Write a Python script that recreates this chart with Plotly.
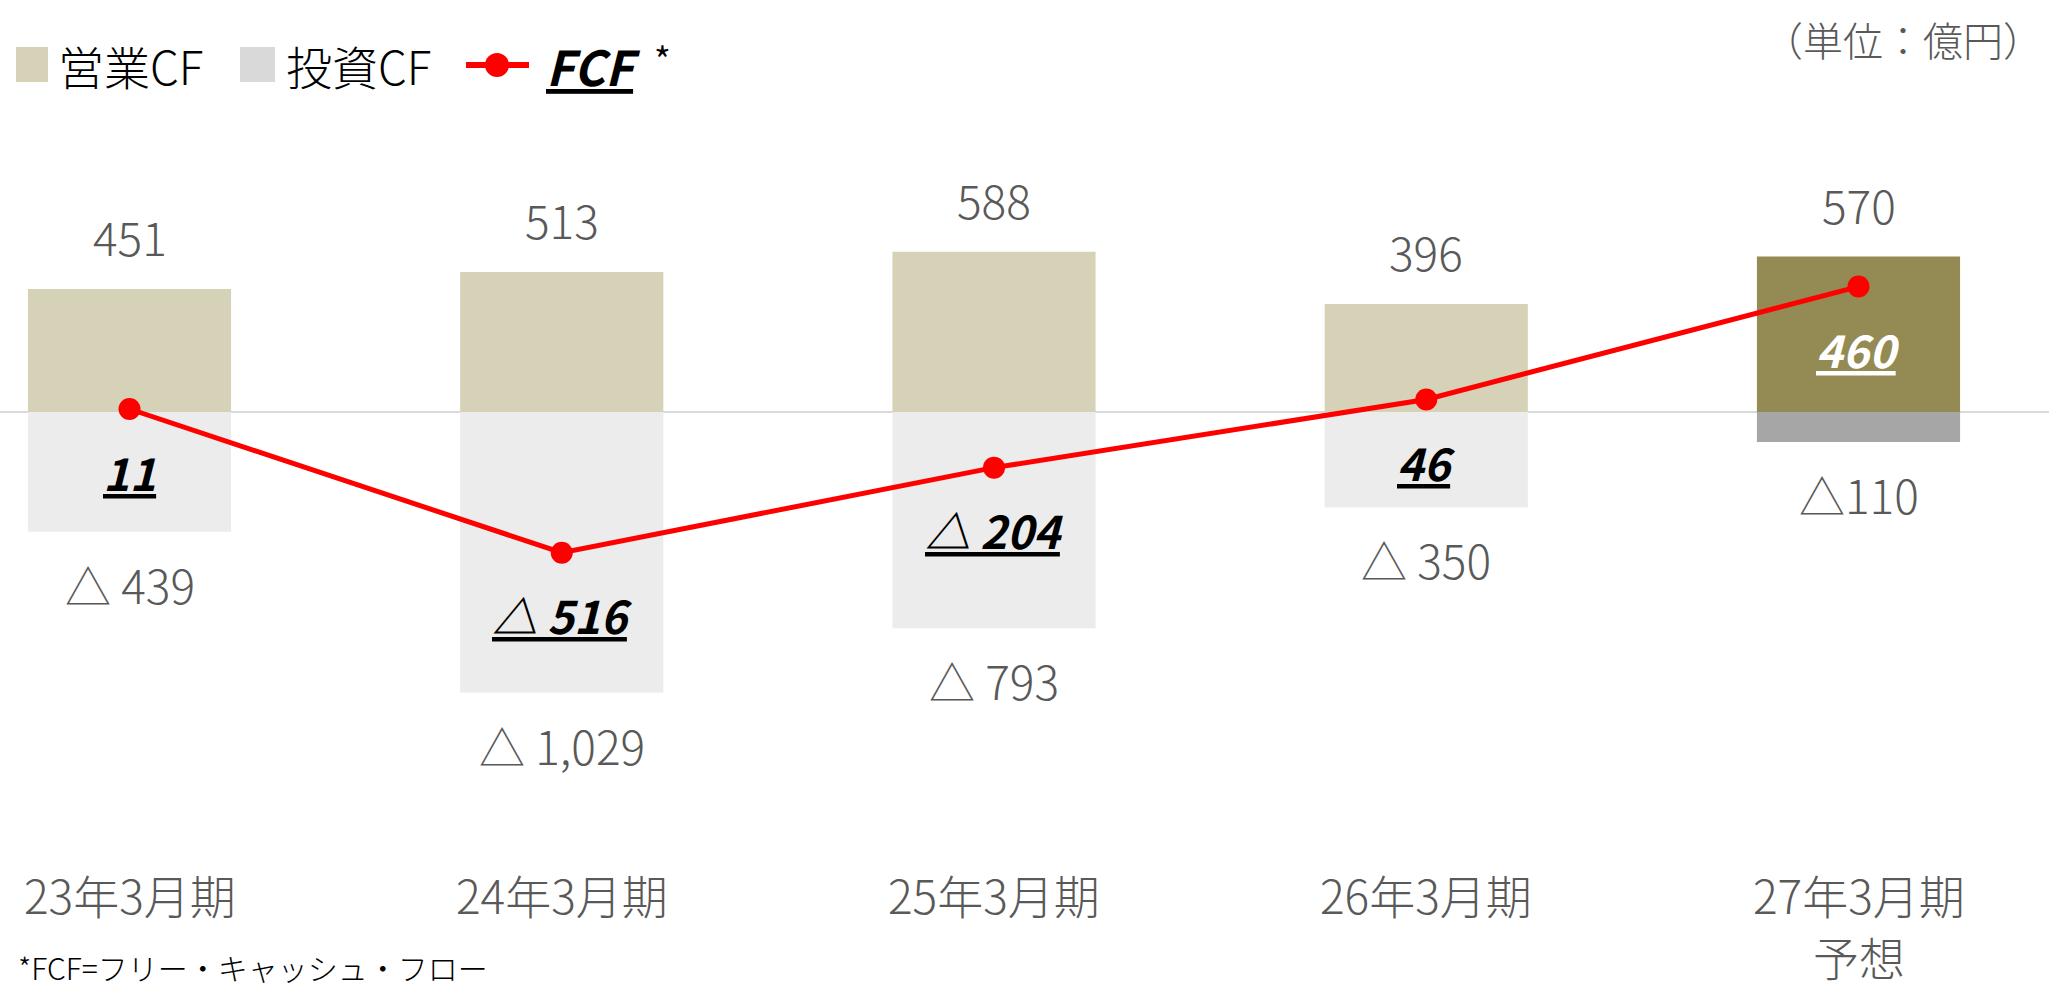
import plotly.graph_objects as go

# ---- data ----
categories = ["23年3月期", "24年3月期", "25年3月期", "26年3月期", "27年3月期<br>予想"]
operating_cf = [451, 513, 588, 396, 570]
investing_cf = [-439, -1029, -793, -350, -110]
fcf = [11, -516, -204, 46, 460]
op_labels = ["451", "513", "588", "396", "570"]
inv_labels = ["△ 439", "△ 1,029", "△ 793", "△ 350", "△110"]
fcf_labels = ["11", "△ 516", "△ 204", "46", "460"]
series_names = ["営業CF", "投資CF", "FCF"]
unit_label = "（単位：億円）"
footnote = "*FCF=フリー・キャッシュ・フロー"

# ---- styling ----
W, H = 2049, 993
FONT = "Noto Sans CJK JP"
GRAY_TXT = "#595959"
op_colors = ["#d6d2b8"] * 4 + ["#948a54"]
inv_colors = ["#ececec"] * 4 + ["#a6a6a6"]
fcf_label_colors = ["black"] * 4 + ["white"]

x_idx = list(range(len(categories)))

fig = go.Figure()
fig.add_trace(go.Bar(x=x_idx, y=operating_cf, width=0.47, marker=dict(color=op_colors, line=dict(width=0)),
                     name=series_names[0], showlegend=False))
fig.add_trace(go.Bar(x=x_idx, y=investing_cf, width=0.47, marker=dict(color=inv_colors, line=dict(width=0)),
                     name=series_names[1], showlegend=False))
fig.add_trace(go.Scatter(x=x_idx, y=fcf, mode="lines+markers", name=series_names[2],
                         line=dict(color="#ff0000", width=5), marker=dict(color="#ff0000", size=22),
                         showlegend=False))

def py(p):
    return 1 - p / H

def px(p):
    return p / W

LIGHT = dict(family=FONT, size=46, color=GRAY_TXT, weight=300)

ann = []
for i in x_idx:
    ann.append(dict(x=i, y=operating_cf[i], xref="x", yref="y", yshift=53, text=op_labels[i],
                    showarrow=False, font=LIGHT, yanchor="middle"))
    ann.append(dict(x=i, y=investing_cf[i], xref="x", yref="y", yshift=-52, text=inv_labels[i],
                    showarrow=False, font=LIGHT, yanchor="middle"))
    ann.append(dict(x=i, y=fcf[i], xref="x", yref="y", yshift=-62,
                    text="<b><i><u>" + fcf_labels[i] + "</u></i></b>",
                    showarrow=False, font=dict(family=FONT, size=45, color=fcf_label_colors[i]), yanchor="middle"))
    lines = categories[i].split("<br>")
    for k, ln in enumerate(lines):
        ann.append(dict(x=i, y=py(894 + 62 * k), xref="x", yref="paper", text=ln, showarrow=False,
                        font=dict(family=FONT, size=46, color=GRAY_TXT, weight=300), yanchor="middle",
                        borderpad=0))

# legend (manual)
ann += [
    dict(x=px(56), y=py(65), xref="paper", yref="paper", xanchor="left", yanchor="middle", text=series_names[0],
         showarrow=False, font=dict(family=FONT, size=46, color="black", weight=300)),
    dict(x=px(284), y=py(65), xref="paper", yref="paper", xanchor="left", yanchor="middle", text=series_names[1],
         showarrow=False, font=dict(family=FONT, size=46, color="black", weight=300)),
    dict(x=px(544), y=py(65), xref="paper", yref="paper", xanchor="left", yanchor="middle",
         text="<b><i><u>" + series_names[2] + "</u></i></b>",
         showarrow=False, font=dict(family=FONT, size=48, color="black")),
    dict(x=px(652), y=py(58), xref="paper", yref="paper", xanchor="left", yanchor="middle", text="*",
         showarrow=False, font=dict(family=FONT, size=36, color="black")),
    dict(x=px(2045), y=py(39), xref="paper", yref="paper", xanchor="right", yanchor="middle", text=unit_label,
         showarrow=False, font=dict(family=FONT, size=40, color=GRAY_TXT, weight=300)),
    dict(x=px(16), y=py(967), xref="paper", yref="paper", xanchor="left", yanchor="middle", text=footnote,
         showarrow=False, font=dict(family=FONT, size=30, color="black", weight=300)),
]

shapes = [
    dict(type="rect", xref="paper", yref="paper", x0=px(16), x1=px(48), y0=py(82), y1=py(47),
         fillcolor="#d6d2b8", line=dict(width=0)),
    dict(type="rect", xref="paper", yref="paper", x0=px(240), x1=px(275), y0=py(82), y1=py(47),
         fillcolor="#d9d9d9", line=dict(width=0)),
    dict(type="line", xref="paper", yref="paper", x0=px(466), x1=px(529), y0=py(65), y1=py(65),
         line=dict(color="#ff0000", width=6)),
    dict(type="circle", xref="paper", yref="paper", x0=px(485), x1=px(509), y0=py(77), y1=py(53),
         fillcolor="#ff0000", line=dict(width=0)),
]

# axis ranges: category 0 centre at x=129.5px, category 4 at 1858.5px; zero at y=412px, 0.2727 px/unit
step = (1858.5 - 129.5) / 4
xr = [-129.5 / step, (W - 129.5) / step]
ppu = 0.2727
yr = [-(H - 412) / ppu, 412 / ppu]

fig.update_layout(
    width=W, height=H, margin=dict(l=0, r=0, t=0, b=0),
    paper_bgcolor="white", plot_bgcolor="white",
    barmode="relative",
    xaxis=dict(range=xr, visible=False, fixedrange=True),
    yaxis=dict(range=yr, showgrid=False, showticklabels=False, zeroline=True,
               zerolinecolor="#d9d9d9", zerolinewidth=2, fixedrange=True),
    annotations=ann, shapes=shapes, showlegend=False,
    font=dict(family=FONT),
)

fig.write_html("out.html", config={"displayModeBar": False},
               post_script="document.body.style.margin='0';")
